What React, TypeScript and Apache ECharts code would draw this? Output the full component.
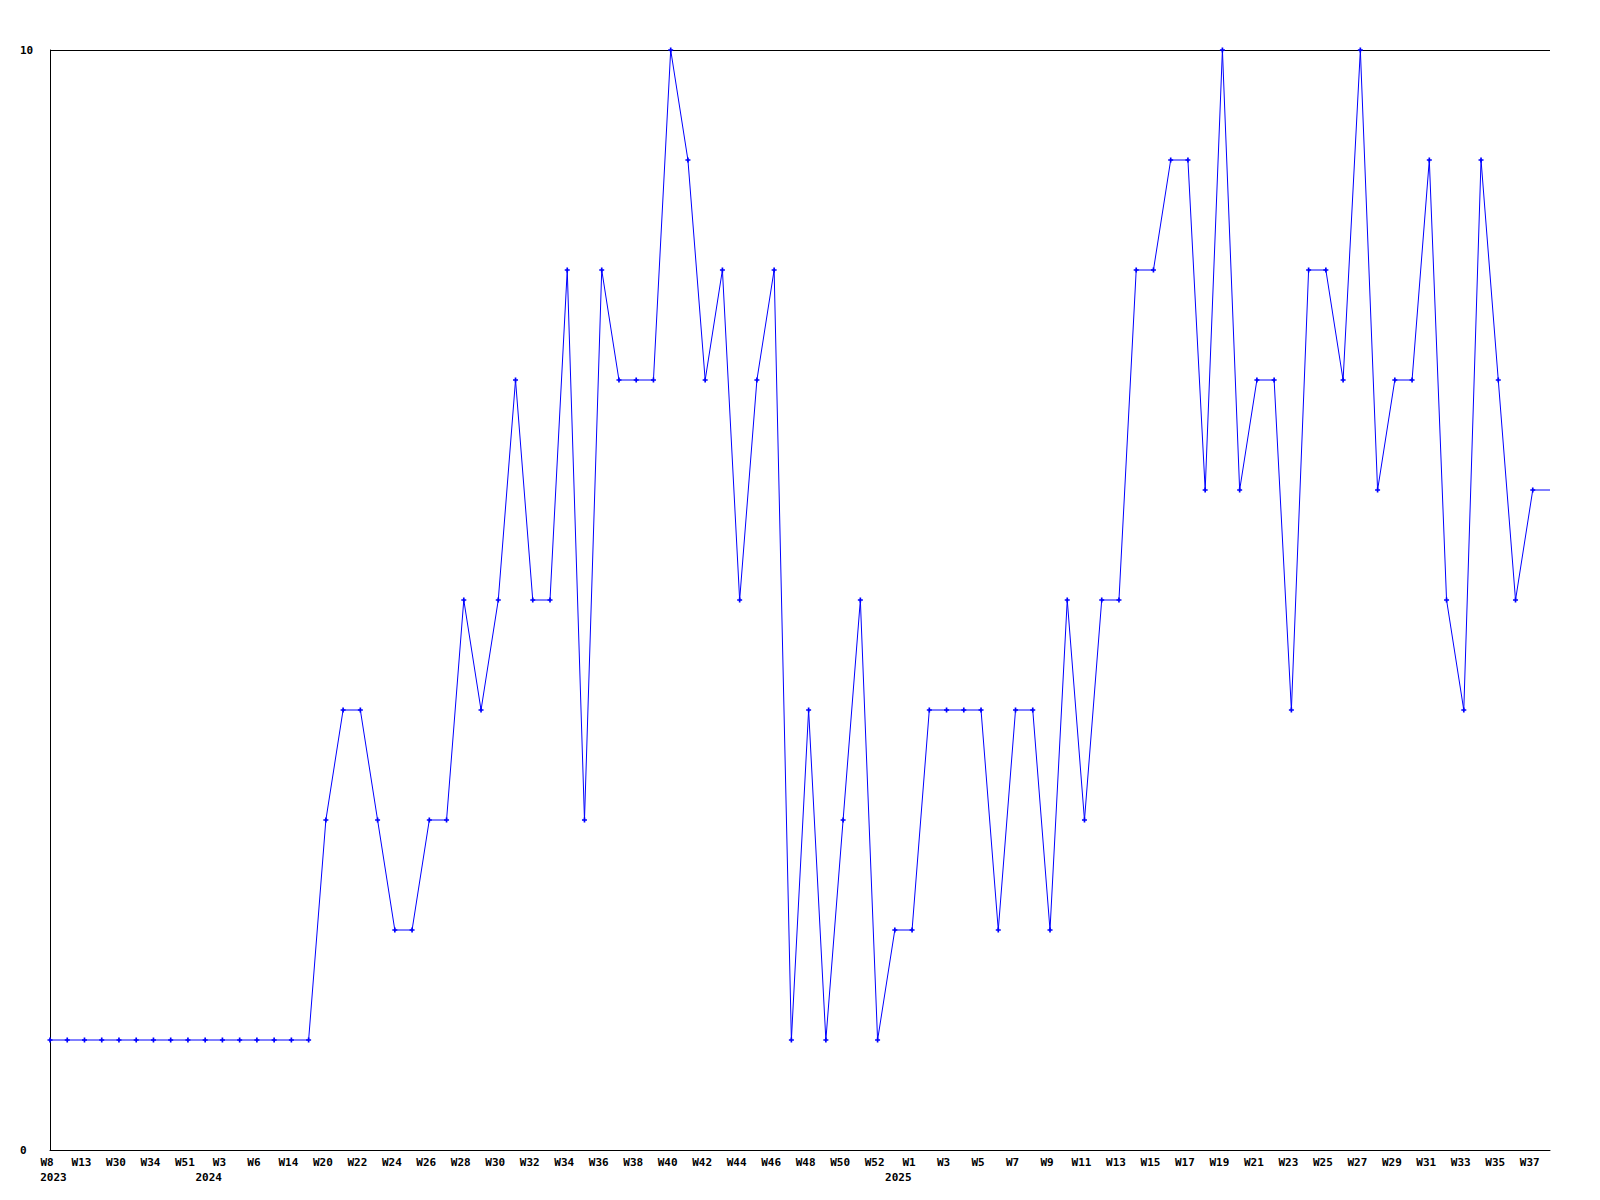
import React, { useEffect, useRef } from "react";
import * as echarts from "echarts";

const weeks: string[] = [
  "W8", "W10", "W13", "W20", "W30", "W32", "W34", "W40", "W51",
  "W1", "W3", "W4", "W6", "W10", "W14", "W17",
  "W20", "W21", "W22", "W23", "W24", "W25", "W26", "W27", "W28", "W29",
  "W30", "W31", "W32", "W33", "W34", "W35", "W36", "W37", "W38", "W39",
  "W40", "W41", "W42", "W43", "W44", "W45", "W46", "W47", "W48", "W49",
  "W50", "W51", "W52", "W53",
  "W1", "W2", "W3", "W4", "W5", "W6", "W7", "W8", "W9", "W10",
  "W11", "W12", "W13", "W14", "W15", "W16", "W17", "W18", "W19", "W20",
  "W21", "W22", "W23", "W24", "W25", "W26", "W27", "W28", "W29", "W30",
  "W31", "W32", "W33", "W34", "W35", "W36", "W37", "W38",
];

const years: string[] = [
  ...Array(9).fill("2023"),
  ...Array(40).fill("2024"),
  ...Array(39).fill("2025"),
];

const values: number[] = [
  1, 1, 1, 1, 1, 1, 1, 1, 1, 1, 1, 1, 1, 1, 1, 1,
  3, 4, 4, 3, 2, 2, 3, 3, 5, 4, 5, 7, 5, 5, 8, 3, 8, 7, 7, 7,
  10, 9, 7, 8, 5, 7, 8, 1, 4, 1, 3, 5, 1, 2,
  2, 4, 4, 4, 4, 2, 4, 4, 2, 5, 3, 5, 5, 8, 8, 9, 9, 6, 10, 6,
  7, 7, 4, 8, 8, 7, 10, 6, 7, 7, 9, 5, 4, 9, 7, 5, 6, 6,
];

const yTicks: number[] = [0, 10];

const FONT = "DejaVu Sans Mono";

export default function App() {
  const ref = useRef<HTMLDivElement>(null);
  useEffect(() => {
    if (!ref.current) return;
    const chart = echarts.init(ref.current, null, { renderer: "svg" });
    const plus = "path://M2,0H4V2H6V4H4V6H2V4H0V2H2Z";
    const seriesData = values.map((v, i) =>
      i === values.length - 1 ? { value: v, symbol: "none" } : v
    );
    chart.setOption({
      animation: false,
      backgroundColor: "#ffffff",
      grid: { left: 50, right: 50, top: 50, bottom: 50, containLabel: false },
      xAxis: [
        {
          type: "category",
          data: weeks,
          boundaryGap: false,
          position: "bottom",
          axisLine: { show: true, lineStyle: { color: "#000", width: 1 } },
          axisTick: { show: false },
          axisLabel: {
            interval: 1,
            margin: 7,
            color: "#000",
            fontFamily: FONT,
            fontWeight: "bold",
            fontSize: 11,
            padding: [0, 6, 0, 0],
          },
          splitLine: { show: false },
        },
        {
          type: "category",
          data: years,
          boundaryGap: false,
          position: "bottom",
          axisLine: { show: false },
          axisTick: { show: false },
          axisLabel: {
            interval: (i: number) => i === 0 || years[i] !== years[i - 1],
            margin: 22,
            color: "#000",
            fontFamily: FONT,
            fontWeight: "bold",
            fontSize: 11,
            padding: [0, 0, 0, 7],
          },
          splitLine: { show: false },
        },
      ],
      yAxis: {
        type: "value",
        min: yTicks[0],
        max: yTicks[yTicks.length - 1],
        interval: yTicks[1] - yTicks[0],
        axisLine: { show: true, lineStyle: { color: "#000", width: 1 } },
        axisTick: { show: false },
        axisLabel: {
          margin: 30,
          align: "left",
          color: "#000",
          fontFamily: FONT,
          fontWeight: "bold",
          fontSize: 11,
        },
        splitLine: { show: true, lineStyle: { color: "#000", width: 1 } },
      },
      series: [
        {
          type: "line",
          xAxisIndex: 0,
          data: seriesData,
          symbol: plus,
          symbolSize: 5,
          showAllSymbol: true,
          lineStyle: { color: "#0000ff", width: 1 },
          itemStyle: { color: "#0000ff" },
          clip: false,
        },
      ],
    });
    return () => chart.dispose();
  }, []);
  return (
    <div
      ref={ref}
      style={{ position: "fixed", left: 0, top: 0, width: 1600, height: 1200 }}
    />
  );
}
